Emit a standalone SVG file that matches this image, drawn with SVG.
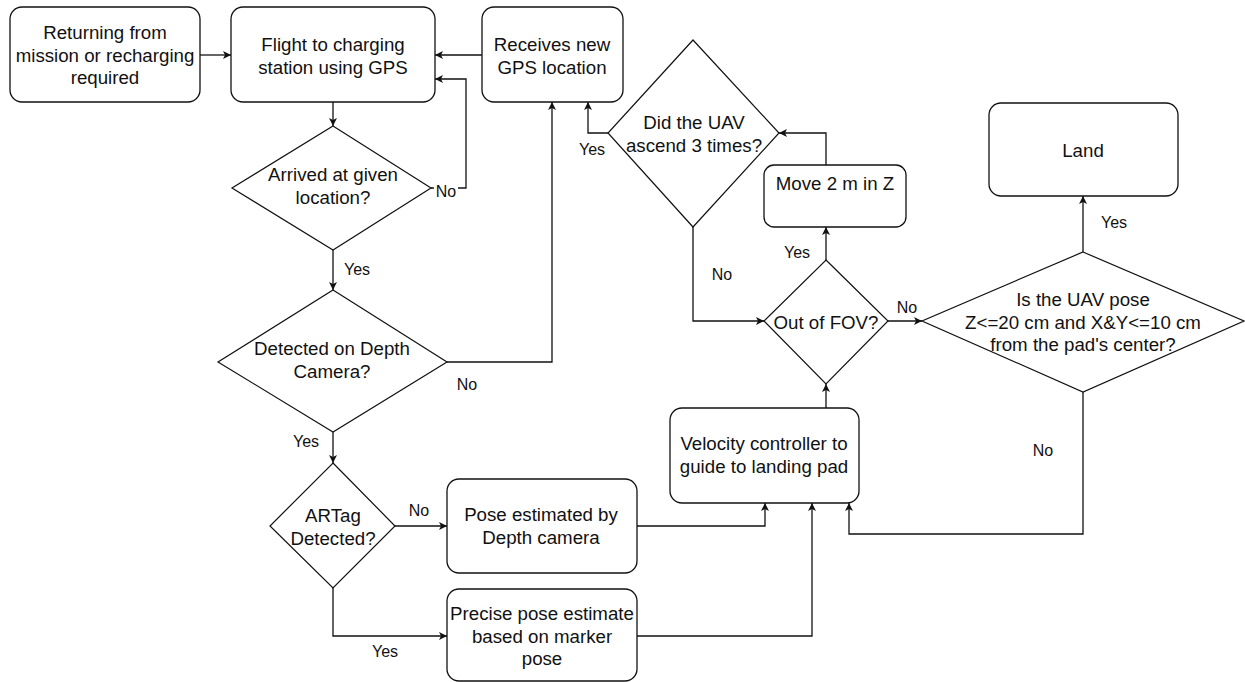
<svg xmlns="http://www.w3.org/2000/svg" width="1245" height="682" viewBox="0 0 1245 682">
<defs>
<marker id="arr" markerUnits="userSpaceOnUse" viewBox="0 0 10 10" markerWidth="9" markerHeight="8" refX="10" refY="5" orient="auto">
<path d="M0,0 L10,5 L0,10 L2.5,5 Z" fill="#111"/>
</marker>
<style>
.box{fill:#fff;stroke:#111;stroke-width:1.3}
.dia{fill:#fff;stroke:#111;stroke-width:1.2}
.t{font-family:"Liberation Sans",Arial,sans-serif;font-size:18.7px;fill:#111;text-anchor:middle}
.lbl{font-family:"Liberation Sans",Arial,sans-serif;font-size:16px;fill:#111;text-anchor:middle}
.e{fill:none;stroke:#111;stroke-width:1.3;marker-end:url(#arr)}
</style>
</defs>
<rect width="1245" height="682" fill="#fff"/>
<g id="connectors">
<path class="e" d="M200,55 L231,55"/>
<path class="e" d="M482,55 L435,55"/>
<path class="e" d="M333,102 L333,126"/>
<path class="e" d="M431,188 L466,188 L466,79 L435,79"/>
<path class="e" d="M333,250 L333,290"/>
<path class="e" d="M447,362 L552,362 L552,102"/>
<path class="e" d="M333,432 L333,463"/>
<path class="e" d="M395,526 L447,526"/>
<path class="e" d="M333,588 L333,636 L447,636"/>
<path class="e" d="M637,526 L765,526 L765,503"/>
<path class="e" d="M637,636 L812,636 L812,503"/>
<path class="e" d="M826,408 L826,384"/>
<path class="e" d="M826,260 L826,227"/>
<path class="e" d="M826,165 L826,133 L779,133"/>
<path class="e" d="M608,133 L588,133 L588,102"/>
<path class="e" d="M693,227 L693,321 L764,321"/>
<path class="e" d="M888,321 L922,321"/>
<path class="e" d="M1083,252 L1083,196"/>
<path class="e" d="M1083,392 L1083,534 L849,534 L849,503"/>
<rect x="434" y="182" width="24" height="17" fill="#fff"/>
<text class="lbl" x="446" y="197">No</text>
<text class="lbl" x="357" y="275">Yes</text>
<text class="lbl" x="467" y="390">No</text>
<text class="lbl" x="306" y="447">Yes</text>
<text class="lbl" x="419" y="516">No</text>
<text class="lbl" x="385" y="657">Yes</text>
<text class="lbl" x="797" y="258">Yes</text>
<text class="lbl" x="592" y="155">Yes</text>
<text class="lbl" x="722" y="280">No</text>
<text class="lbl" x="907" y="313">No</text>
<text class="lbl" x="1114" y="228">Yes</text>
<text class="lbl" x="1043" y="456">No</text>
</g>
<g id="returning">
<rect class="box" x="10" y="7" width="190" height="95" rx="12"/>
<text class="t" x="105" y="39">Returning from</text>
<text class="t" x="105" y="62">mission or recharging</text>
<text class="t" x="105" y="84">required</text>
</g>
<g id="flight">
<rect class="box" x="231" y="7" width="204" height="95" rx="12"/>
<text class="t" x="333" y="51">Flight to charging</text>
<text class="t" x="333" y="74">station using GPS</text>
</g>
<g id="receives">
<rect class="box" x="482" y="7" width="141" height="95" rx="12"/>
<text class="t" x="552" y="51">Receives new</text>
<text class="t" x="552" y="74">GPS location</text>
</g>
<g id="arrived">
<polygon class="dia" points="333,126 431,188 333,250 232,188"/>
<text class="t" x="333" y="181">Arrived at given</text>
<text class="t" x="333" y="204">location?</text>
</g>
<g id="depth">
<polygon class="dia" points="333,290 447,362 333,432 218,362"/>
<text class="t" x="332" y="355">Detected on Depth</text>
<text class="t" x="332" y="378">Camera?</text>
</g>
<g id="artag">
<polygon class="dia" points="333,463 395,526 333,588 270,526"/>
<text class="t" x="333" y="522">ARTag</text>
<text class="t" x="333" y="545">Detected?</text>
</g>
<g id="pose">
<rect class="box" x="447" y="479" width="190" height="94" rx="12"/>
<text class="t" x="541" y="521">Pose estimated by</text>
<text class="t" x="541" y="544">Depth camera</text>
</g>
<g id="precise">
<rect class="box" x="447" y="589" width="190" height="92" rx="12"/>
<text class="t" x="542" y="620">Precise pose estimate</text>
<text class="t" x="542" y="643">based on marker</text>
<text class="t" x="542" y="665">pose</text>
</g>
<g id="velocity">
<rect class="box" x="670" y="408" width="189" height="95" rx="12"/>
<text class="t" x="764" y="450">Velocity controller to</text>
<text class="t" x="764" y="473">guide to landing pad</text>
</g>
<g id="fov">
<polygon class="dia" points="826,260 888,321 826,384 764,321"/>
<text class="t" x="826" y="329">Out of FOV?</text>
</g>
<g id="move">
<rect class="box" x="764" y="165" width="142" height="62" rx="10"/>
<text class="t" x="835" y="190">Move 2 m in Z</text>
</g>
<g id="ascend">
<polygon class="dia" points="693,40 779,133 693,227 608,133"/>
<text class="t" x="694" y="129">Did the UAV</text>
<text class="t" x="694" y="152">ascend 3 times?</text>
</g>
<g id="pose-check">
<polygon class="dia" points="1083,252 1244,321 1083,392 922,321"/>
<text class="t" x="1083" y="306">Is the UAV pose</text>
<text class="t" x="1083" y="329">Z&lt;=20 cm and X&amp;Y&lt;=10 cm</text>
<text class="t" x="1083" y="351">from the pad's center?</text>
</g>
<g id="land">
<rect class="box" x="989" y="103" width="189" height="93" rx="12"/>
<text class="t" x="1083" y="157">Land</text>
</g>
</svg>
